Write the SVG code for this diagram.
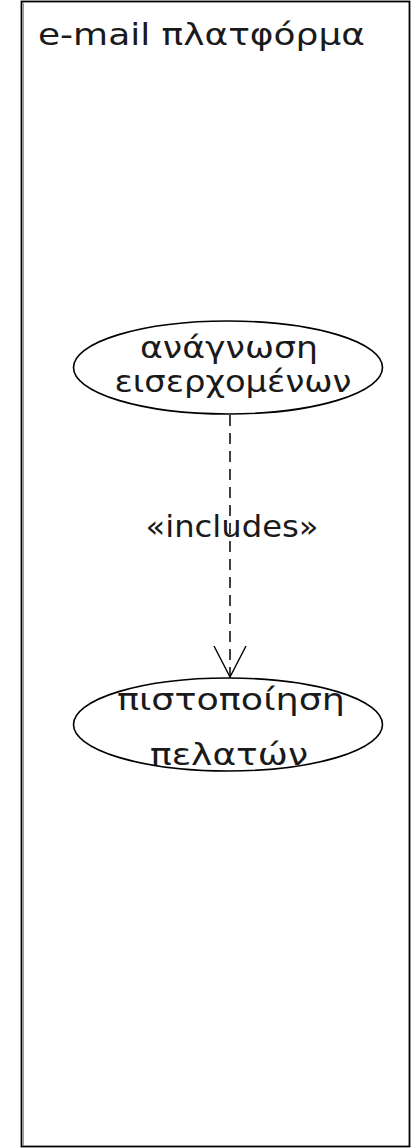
<svg xmlns="http://www.w3.org/2000/svg" width="411" height="1148" viewBox="0 0 411 1148">
<style>
.t{font-family:"DejaVu Sans","Noto Sans",sans-serif;font-size:31px;fill:#1a1a1a}
.c{text-anchor:middle}
.uc{fill:#fff;stroke:#000;stroke-width:1.6}
</style>
<defs>
<marker id="open" viewBox="0 0 34 34" refX="31" refY="17" markerWidth="34" markerHeight="34" markerUnits="userSpaceOnUse" orient="auto">
<path d="M0,1 L31,17 L0,33" fill="none" stroke="#000" stroke-width="1.4"/>
</marker>
</defs>
<rect width="411" height="1148" fill="#fff"/>
<g id="system">
<rect x="21.5" y="1.5" width="388" height="1145" fill="#fff" stroke="#000" stroke-width="1.8"/>
<line x1="23.5" y1="3" x2="23.5" y2="1145" stroke="#999" stroke-width="1"/>
<text class="t" x="38" y="45" textLength="327" lengthAdjust="spacingAndGlyphs">e-mail πλατφόρμα</text>
</g>
<g id="uc1">
<ellipse class="uc" cx="228" cy="367.5" rx="154.5" ry="46.5"/>
<text class="t c" x="229" y="358" textLength="178" lengthAdjust="spacingAndGlyphs">ανάγνωση</text>
<text class="t c" x="233" y="392" textLength="237" lengthAdjust="spacingAndGlyphs">εισερχομένων</text>
</g>
<g id="uc2">
<ellipse class="uc" cx="228" cy="724.5" rx="154.5" ry="46.5"/>
<text class="t c" x="231" y="710" textLength="228" lengthAdjust="spacingAndGlyphs">πιστοποίηση</text>
<text class="t c" x="229" y="765" textLength="158" lengthAdjust="spacingAndGlyphs">πελατών</text>
</g>
<g id="connectors">
<line x1="230" y1="415" x2="230" y2="677" stroke="#000" stroke-width="1.5" stroke-dasharray="11,7" marker-end="url(#open)"/>
<text class="t c" x="232" y="537" textLength="173" lengthAdjust="spacingAndGlyphs">«includes»</text>
</g>
</svg>
